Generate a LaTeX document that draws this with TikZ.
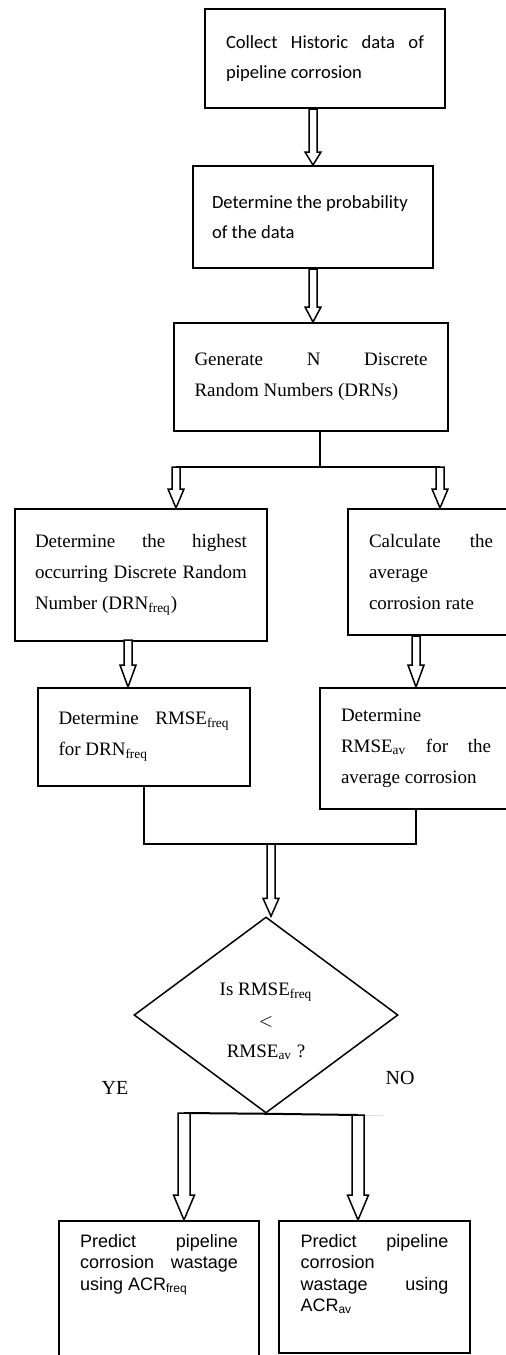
\documentclass[tikz,border=0pt]{standalone}
\usepackage{fontspec}
\setmainfont{Liberation Serif}
\newfontfamily\calibrifont{Carlito}
\newfontfamily\arialfont{Liberation Sans}
\usetikzlibrary{shapes.geometric,calc}
\tikzset{
  box/.style = {draw, line width=1pt, anchor=north west,
                inner sep=0pt, align=justify},
  calibri/.style = {font=\calibrifont\fontsize{9.3}{15}\selectfont},
  antiqua/.style = {font=\fontsize{9.5}{15.5}\selectfont},
  arial/.style = {font=\arialfont\fontsize{9}{10.8}\selectfont},
  link/.style = {line width=1pt},
  blockarrow/.style args = {#1/#2/#3}{draw, fill=white, line width=0.75pt,
    to path={let \p1=(\tikztostart), \p2=(\tikztotarget) in
      (\x1-#1,\y1) -- (\x1-#1,\y2+#3) -- (\x1-#2,\y2+#3) -- (\x1,\y2)
      -- (\x1+#2,\y2+#3) -- (\x1+#1,\y2+#3) -- (\x1+#1,\y1) -- cycle}}
}

\begin{document}
\begin{tikzpicture}[x=0.5pt, y=-0.5pt]
	\clip (0,0) rectangle (506,1355);

	% Boxes
	\node[box, calibri, minimum width=120pt, minimum height=49.5pt, text width=99pt] (collect) at (204,8) {Collect Historic data of\linebreak pipeline corrosion};
	\node[box, calibri, minimum width=120pt, minimum height=51pt, text width=101pt] (prob) at (192,165) {Determine the probability\newline of the data};
	\node[box, antiqua, minimum width=137pt, minimum height=54pt, text width=116.5pt] (gen) at (173,322) {Generate N Discrete\linebreak Random Numbers (DRNs)};
	\node[box, antiqua, minimum width=126pt, minimum height=66pt, text width=106pt] (high) at (14,508) {Determine the highest\linebreak occurring Discrete Random\linebreak Number (DRN\textsubscript{freq})};
	\node[box, antiqua, minimum width=83pt, minimum height=63pt, text width=62pt] (calc) at (347,508) {Calculate the\linebreak average\newline corrosion rate};
	\node[box, antiqua, minimum width=106pt, minimum height=49pt, text width=85.5pt] (rmsef) at (37,687) {Determine RMSE\textsubscript{freq}\linebreak for DRN\textsubscript{freq}};
	\node[box, antiqua, minimum width=96pt, minimum height=60.5pt, text width=75pt] (rmsea) at (319,687) {Determine\newline RMSE\textsubscript{av} for the\linebreak average corrosion};
	\node[box, arial, minimum width=100pt, text width=79pt, text height=13pt, text depth=100pt] (predfreq) at (58,1220) {Predict pipeline\linebreak corrosion wastage\linebreak using ACR\textsubscript{freq}};
	\node[box, arial, minimum width=95.5pt, text width=74pt, text height=13pt, text depth=53pt] (predav) at (278,1220) {Predict pipeline\linebreak corrosion\newline wastage using\linebreak ACR\textsubscript{av}};

	% Decision
	\node[diamond, draw, line width=0.75pt, inner sep=0pt, minimum width=132pt, minimum height=98pt, antiqua, align=center, text height=43.5pt] (test) at (266,1015) {Is RMSE\textsubscript{freq}\\$<$\\RMSE\textsubscript{av} ?};
	\node[font=\fontsize{10}{12}\selectfont] (yeslbl) at (115,1088) {YE};
	\node[font=\fontsize{10}{12}\selectfont] (nolbl) at (400,1078) {NO};

	% Junctions
	\coordinate (split) at (320,467);
	\coordinate (splitL) at (176,467);
	\coordinate (splitR) at (440,467);
	\coordinate (highOut) at (128,640);
	\coordinate (merge) at (271,844);
	\coordinate (yesTop) at (184,1113);
	\coordinate (noTop) at (358,1115);

	% Lines
	\draw[link] (gen.south -| split) -- (split);
	\draw[link] (splitL) -- (splitR);
	\draw[link] (rmsef.south) |- (merge) -| (rmsea.south);
	\draw[link] (yesTop) -- (test.south) -- (noTop);
	\draw[gray!25] (noTop) -- ++(25,0);

	% Arrows
	\draw[blockarrow=2pt/4pt/6.5pt] (collect.south -| prob.north) to (prob.north);
	\draw[blockarrow=2pt/4pt/7.5pt] (prob.south) to (prob.south |- gen.north);
	\draw[blockarrow=2pt/4pt/9.5pt] (splitL) to (splitL |- high.north);
	\draw[blockarrow=2pt/4pt/9.5pt] (splitR) to (splitR |- calc.north);
	\draw[blockarrow=2pt/4pt/11pt] (highOut) to (highOut |- rmsef.north);
	\draw[blockarrow=2pt/4pt/11pt] (calc.south -| rmsea.north) to (rmsea.north);
	\draw[blockarrow=2pt/4pt/9pt] (merge) to (merge |- test.north);
	\draw[blockarrow=3pt/5.25pt/12.5pt] (yesTop) to (yesTop |- predfreq.north);
	\draw[blockarrow=3pt/5.25pt/12.5pt] (noTop) to (noTop |- predav.north);
\end{tikzpicture}
\end{document}
